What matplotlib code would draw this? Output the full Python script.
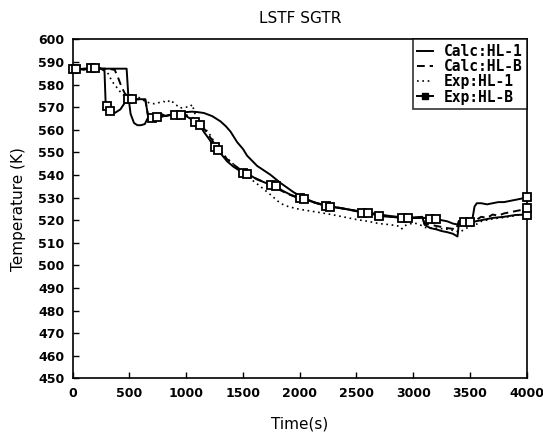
import matplotlib
matplotlib.use("Agg")
import matplotlib.pyplot as plt
from matplotlib.lines import Line2D

# ---------------- data ----------------
t_calc1 = [0, 100, 200, 300, 400, 475, 490, 510, 540, 570, 600, 635, 660, 700, 750,
           800, 850, 900, 950, 1000, 1050, 1100, 1156, 1230, 1302, 1350, 1390, 1449,
           1500, 1537, 1625, 1742, 1830, 1948, 2050, 2150, 2250, 2400, 2500, 2600,
           2700, 2800, 2900, 3000, 3080, 3100, 3150, 3200, 3250, 3300, 3350, 3390,
           3405, 3450, 3520, 3540, 3560, 3600, 3650, 3700, 3750, 3800, 3850, 3900,
           3950, 4000]
T_calc1 = [586.5, 587, 587, 587, 587, 587, 575, 567, 563, 562, 562, 562.5, 565, 565.5, 565,
           566, 566.5, 567, 567.5, 567.8, 568, 567.8, 567.4, 566, 563.7, 561.5, 559.2, 554.5,
           551.5, 548.5, 544, 540.1, 536.5, 532.3, 529.5, 527.5, 526.2, 525, 524.2, 523.4,
           522.6, 521.8, 521.3, 521.2, 521.5, 518, 516.5, 516, 515.2, 514.7, 514, 512.8,
           519.7, 519.7, 520, 526, 527.5, 527.5, 527, 527.5, 528, 528, 528.5, 529,
           529.5, 530.3]

t_calcB = [0, 100, 200, 300, 370, 400, 430, 460, 500, 560, 640, 665, 700, 750, 800, 850,
           900, 950, 1000, 1050, 1100, 1150, 1200, 1260, 1300, 1360, 1420, 1500, 1600,
           1700, 1800, 1900, 2000, 2100, 2200, 2300, 2400, 2500, 2600, 2700, 2800, 2900,
           3000, 3080, 3100, 3200, 3300, 3380, 3400, 3450, 3500, 3550, 3600, 3650, 3700,
           3750, 3800, 3850, 3900, 3950, 4000]
T_calcB = [587, 587, 587, 587, 586.5, 583, 579, 576, 574, 573.5, 573, 566, 565.5, 566, 566.5, 566.5,
           567, 567, 566.5, 565.5, 564, 561, 557.5, 553, 550.5, 547, 544.5, 541.5, 538.8,
           536.5, 534, 531.5, 529.5, 528.2, 527, 526, 525, 524, 523.2, 522.3, 521.6, 521.2,
           521, 521.2, 518.5, 517.5, 516.5, 516, 519.5, 519.5, 519.5, 520, 521.5, 521, 522.5,
           522, 523, 523.5, 524, 524.5, 525.5]

t_exp1 = [0, 100, 200, 280, 300, 330, 360, 400, 430, 460, 500, 560, 600, 640, 680, 720,
          760, 800, 830, 860, 875, 900, 945, 1000, 1040, 1050, 1060, 1092, 1150, 1200,
          1256, 1300, 1348, 1400, 1500, 1600, 1652, 1700, 1750, 1805, 1850, 1900, 2000,
          2100, 2200, 2300, 2400, 2500, 2600, 2700, 2800, 2880, 2900, 2920, 2950, 3000,
          3050, 3100, 3200, 3300, 3412, 3471, 3550, 3600, 3700, 3800, 3900, 4000]
T_exp1 = [587, 587, 587.5, 587, 586, 583, 580.5, 578, 576, 575, 574.5, 574.5, 574, 572.5, 571.8, 571.5,
          572, 572.5, 572, 573.2, 572.5, 571.5, 569.6, 570, 570.3, 571.2, 570, 564.5, 561.5, 558.5,
          554, 551, 548, 545.5, 541, 537, 535, 533, 531, 528.5, 527, 526, 524.8,
          524, 523.2, 522.3, 521.3, 520.3, 519.5, 518.5, 518, 517.3, 516.2, 517.5, 518, 518.8,
          518.3, 516.8, 516.5, 516, 514.8, 516.5, 518, 519.5, 520.6, 521.2, 522, 523]

t_expB = [0, 30, 100, 160, 200, 250, 280, 290, 300, 330, 370, 420, 460, 490, 520, 560,
          640, 665, 700, 740, 780, 820, 860, 900, 950, 1000, 1050, 1080, 1120, 1156, 1200,
          1250, 1280, 1320, 1361, 1420, 1500, 1540, 1625, 1700, 1750, 1790, 1850, 1918,
          2000, 2040, 2094, 2150, 2230, 2270, 2300, 2400, 2500, 2550, 2600, 2650, 2700,
          2800, 2900, 2950, 3000, 3100, 3150, 3200, 3300, 3350, 3400, 3450, 3500, 3550,
          3600, 3700, 3800, 3900, 4000]
T_expB = [587, 587, 586.5, 587.5, 587.5, 587, 586, 572, 570.3, 568.5, 567.4, 569, 572, 573.4, 573.5, 573.5,
          573.5, 565.5, 565, 565.5, 567, 566, 566.5, 566.5, 566.5, 566, 564.5, 563.5, 562, 559, 556,
          552.3, 551, 548.5, 546, 543.5, 541, 540.6, 538, 536.5, 535.5, 535, 533, 531.3,
          529.8, 529.5, 528.4, 527.5, 526.3, 526, 525.8, 525, 524, 523.2, 523, 522.6, 521.8,
          521.5, 521, 521, 521, 521, 520.7, 520.5, 519.5, 518.5, 518, 519, 519.3, 519.5,
          520, 521, 521.5, 522.3, 522.5]

marker_times = [0, 30, 160, 200, 300, 330, 490, 520, 700, 740, 900, 950, 1080, 1120,
                1250, 1280, 1500, 1540, 1750, 1790, 2000, 2040, 2230, 2270, 2550, 2600,
                2700, 2900, 2950, 3150, 3200, 3450, 3500, 4000]

x_ticks = [0, 500, 1000, 1500, 2000, 2500, 3000, 3500, 4000]
y_ticks = list(range(450, 601, 10))

labels = ["Calc:HL-1", "Calc:HL-B", "Exp:HL-1", "Exp:HL-B"]

# ---------------- figure ----------------
fig = plt.figure(figsize=(5.43, 4.36), dpi=100)
ax = fig.add_axes([0.1339, 0.1319, 0.970 - 0.1339, 0.9099 - 0.1319])

lw = 1.4
ax.plot(t_calc1, T_calc1, color="black", lw=lw, ls="-")
ax.plot(t_calcB, T_calcB, color="black", lw=lw, ls=(0, (4, 2.5)))
ax.plot(t_exp1, T_exp1, color="black", lw=1.2, ls=(0, (1, 2.2)))
mk_idx = [i for i, t in enumerate(t_expB) if t in marker_times]
ax.plot(t_expB, T_expB, color="black", lw=lw, ls="-", marker="s", markevery=mk_idx,
        markersize=5.5, markerfacecolor="white", markeredgecolor="black",
        markeredgewidth=1.3, clip_on=False, zorder=4)
# end markers of the calculated curves
ax.plot([t_calc1[-1]], [T_calc1[-1]], ls="none", marker="s", markersize=5.5,
        markerfacecolor="white", markeredgecolor="black", markeredgewidth=1.3,
        clip_on=False, zorder=4)
ax.plot([t_calcB[-1]], [T_calcB[-1]], ls="none", marker="s", markersize=5.5,
        markerfacecolor="white", markeredgecolor="black", markeredgewidth=1.3,
        clip_on=False, zorder=4)

ax.set_xlim(0, 4000)
ax.set_ylim(450, 600)
ax.set_xticks(x_ticks)
ax.set_yticks(y_ticks)
ax.set_xticklabels([str(v) for v in x_ticks], fontsize=9, fontweight="bold")
ax.set_yticklabels([str(v) for v in y_ticks], fontsize=9, fontweight="bold")
ax.tick_params(axis="both", direction="in", length=4, width=1, color="black",
               top=False, right=False)
ax.tick_params(axis="y", pad=6)
ax.tick_params(axis="x", pad=6)
for s in ax.spines.values():
    s.set_linewidth(1.2)
    s.set_color("black")

ax.set_title("LSTF SGTR", fontsize=11, pad=12)
ax.set_xlabel("Time(s)", fontsize=11, labelpad=12)
ax.set_ylabel("Temperature (K)", fontsize=11, labelpad=9)

handles = [
    Line2D([], [], color="black", lw=lw, ls="-"),
    Line2D([], [], color="black", lw=lw, ls=(0, (4, 2.5))),
    Line2D([], [], color="black", lw=1.2, ls=(0, (1, 2.2))),
    Line2D([], [], color="black", lw=lw, ls="-", marker="s", markersize=5,
           markerfacecolor="black", markeredgecolor="black"),
]
leg = ax.legend(handles, labels, loc="upper right", bbox_to_anchor=(1, 1),
                borderaxespad=0, fancybox=False, frameon=True, handlelength=1.1,
                handletextpad=0.7, labelspacing=0.02, borderpad=0.3,
                prop={"family": "DejaVu Sans Mono", "weight": "bold", "size": 10.5})
leg.get_frame().set_edgecolor("black")
leg.get_frame().set_linewidth(1.2)

fig.savefig("out.png", dpi=100)
